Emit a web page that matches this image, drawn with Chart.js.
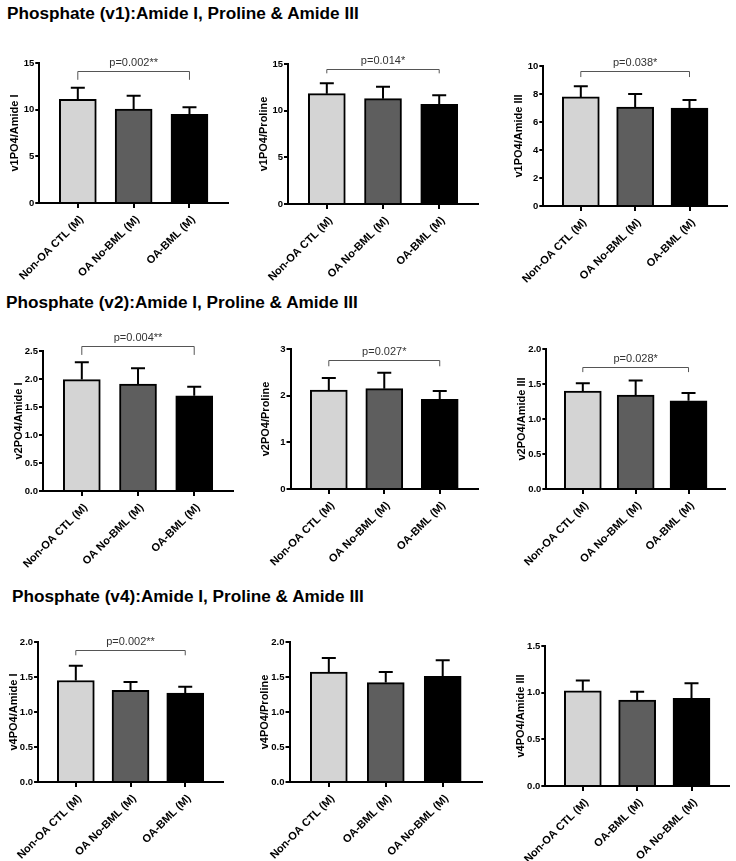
<!DOCTYPE html>
<html lang="en">
<head>
    <meta charset="UTF-8">
    <title>Phosphate : Amide I, Proline &amp; Amide III</title>
    <script src="https://cdn.jsdelivr.net/npm/chart.js"></script>
    <style>
        body { margin: 0; background: #fff; }
        #page { position: relative; width: 736px; height: 861px; font-family: "Liberation Sans", Arial, sans-serif; }
        .section-title { position: absolute; font-weight: bold; font-size: 17.2px; line-height: 20px; white-space: nowrap; color: #000; }
        canvas { position: absolute; }
    </style>
</head>
<body>
<div id="page">
    <div class="section-title" style="left:7px; top:3px;">Phosphate (v1):Amide I, Proline &amp; Amide III</div>
    <div class="section-title" style="left:6px; top:292px;">Phosphate (v2):Amide I, Proline &amp; Amide III</div>
    <div class="section-title" style="left:12px; top:586px;">Phosphate (v4):Amide I, Proline &amp; Amide III</div>
</div>

<script>
    // group order (the v4 Proline / Amide III panels swap the last two)
    const groupsA = ["Non-OA CTL (M)", "OA No-BML (M)", "OA-BML (M)"];
    const groupsB = ["Non-OA CTL (M)", "OA-BML (M)", "OA No-BML (M)"];

    // means and upper error (SD)
    const v1AmideI = [11.1, 10.07, 9.5];
    const v1AmideIErr = [1.25, 1.43, 0.75];
    const v1Proline = [11.82, 11.29, 10.68];
    const v1ProlineErr = [1.11, 1.28, 0.96];
    const v1AmideIII = [7.79, 7.07, 7.0];
    const v1AmideIIIErr = [0.76, 0.93, 0.57];

    const v2AmideI = [1.99, 1.91, 1.70];
    const v2AmideIErr = [0.31, 0.28, 0.16];
    const v2Proline = [2.12, 2.15, 1.92];
    const v2ProlineErr = [0.26, 0.34, 0.18];
    const v2AmideIII = [1.40, 1.34, 1.26];
    const v2AmideIIIErr = [0.11, 0.21, 0.11];

    const v4AmideI = [1.45, 1.31, 1.27];
    const v4AmideIErr = [0.21, 0.12, 0.09];
    const v4Proline = [1.57, 1.42, 1.51];
    const v4ProlineErr = [0.20, 0.15, 0.23];
    const v4AmideIII = [1.02, 0.92, 0.94];
    const v4AmideIIIErr = [0.11, 0.09, 0.16];

    // p-value labels (first vs third bar)
    const pValues = ["p=0.002**", "p=0.014*", "p=0.038*", "p=0.004**", "p=0.027*", "p=0.028*", "p=0.002**", null, null];

    const FONT = "'Liberation Sans', Arial, sans-serif";
    const barFills = ["#d4d4d4", "#5e5e5e", "#000000"];
    const YW = 31, PT = 40, PR = 6, XH = 90;

    // box = [axis left, axis right, axis top, axis bottom] in page pixels
    const panels = [
        { labels: groupsA, means: v1AmideI, err: v1AmideIErr, yTitle: "v1PO4/Amide I", yMax: 15, step: 5, dec: 0, pLevel: 14.15, pFoot: 13.2, box: [37, 228, 63, 203] },
        { labels: groupsA, means: v1Proline, err: v1ProlineErr, yTitle: "v1PO4/Proline", yMax: 15, step: 5, dec: 0, pLevel: 14.5, pFoot: 14.0, box: [286, 478, 64, 204] },
        { labels: groupsA, means: v1AmideIII, err: v1AmideIIIErr, yTitle: "v1PO4/Amide III", yMax: 10, step: 2, dec: 0, pLevel: 9.64, pFoot: 9.21, box: [540, 727, 66, 206] },
        { labels: groupsA, means: v2AmideI, err: v2AmideIErr, yTitle: "v2PO4/Amide I", yMax: 2.5, step: 0.5, dec: 1, pLevel: 2.59, pFoot: 2.43, box: [41, 233, 351, 491] },
        { labels: groupsA, means: v2Proline, err: v2ProlineErr, yTitle: "v2PO4/Proline", yMax: 3, step: 1, dec: 0, pLevel: 2.76, pFoot: 2.63, box: [288, 478, 349, 489] },
        { labels: groupsA, means: v2AmideIII, err: v2AmideIIIErr, yTitle: "v2PO4/Amide III", yMax: 2, step: 0.5, dec: 1, pLevel: 1.75, pFoot: 1.67, box: [542, 725, 349, 489] },
        { labels: groupsA, means: v4AmideI, err: v4AmideIErr, yTitle: "v4PO4/Amide I", yMax: 2, step: 0.5, dec: 1, pLevel: 1.89, pFoot: 1.81, box: [35, 223, 642, 782] },
        { labels: groupsB, means: v4Proline, err: v4ProlineErr, yTitle: "v4PO4/Proline", yMax: 2, step: 0.5, dec: 1, box: [288, 482, 642, 782] },
        { labels: groupsB, means: v4AmideIII, err: v4AmideIIIErr, yTitle: "v4PO4/Amide III", yMax: 1.5, step: 0.5, dec: 1, box: [542, 729, 646, 786] }
    ];

    // error whiskers + significance bracket, drawn through the chart scales
    function overlay(p, pText) {
        return {
            id: "overlay",
            afterDatasetsDraw(chart) {
                const { ctx, scales: { x, y } } = chart;
                ctx.save();
                ctx.strokeStyle = "#000";
                ctx.lineWidth = 2;
                p.means.forEach((m, i) => {
                    const px = x.getPixelForValue(i);
                    const y0 = y.getPixelForValue(m);
                    const y1 = y.getPixelForValue(m + p.err[i]);
                    ctx.beginPath();
                    ctx.moveTo(px, y0);
                    ctx.lineTo(px, y1);
                    ctx.moveTo(px - 7, y1);
                    ctx.lineTo(px + 7, y1);
                    ctx.stroke();
                });
                if (pText) {
                    const xa = x.getPixelForValue(0), xb = x.getPixelForValue(2);
                    const yl = Math.round(y.getPixelForValue(p.pLevel)) + 0.5;
                    const yf = y.getPixelForValue(p.pFoot);
                    ctx.strokeStyle = "#555";
                    ctx.lineWidth = 1;
                    ctx.beginPath();
                    ctx.moveTo(xa, yf);
                    ctx.lineTo(xa, yl);
                    ctx.lineTo(xb, yl);
                    ctx.lineTo(xb, yf);
                    ctx.stroke();
                    ctx.fillStyle = "#333";
                    ctx.font = "11px " + FONT;
                    ctx.textAlign = "center";
                    ctx.textBaseline = "bottom";
                    ctx.fillText(pText, (xa + xb) / 2, yl - 3);
                }
                ctx.restore();
            }
        };
    }

    const page = document.getElementById("page");
    panels.forEach((p, k) => {
        const [ax, ar, at, ab] = p.box;
        const canvas = document.createElement("canvas");
        canvas.width = ar - ax + YW + PR;
        canvas.height = ab - at + PT + XH;
        canvas.style.left = (ax - YW) + "px";
        canvas.style.top = (at - PT) + "px";
        page.appendChild(canvas);

        const labelFont = { family: FONT, size: 11, weight: "bold" };
        const tickFont = { family: FONT, size: 9.5, weight: "bold" };
        new Chart(canvas, {
            type: "bar",
            data: {
                datasets: [{
                    data: p.means.map((v, i) => ({ x: i, y: v })),
                    backgroundColor: barFills,
                    borderColor: "#000",
                    borderWidth: 2,
                    borderSkipped: "start",
                    barThickness: 37
                }]
            },
            options: {
                responsive: false,
                animation: false,
                layout: { padding: { top: PT, right: PR, left: 0, bottom: 0 } },
                plugins: { legend: { display: false }, tooltip: { enabled: false } },
                scales: {
                    x: {
                        type: "linear",
                        offset: false,
                        min: -0.69,
                        max: 2.69,
                        afterBuildTicks: s => { s.ticks = [0, 1, 2].map(v => ({ value: v })); },
                        afterFit: s => { s.height = XH; },
                        grid: { offset: false, drawOnChartArea: false, drawTicks: true, tickLength: 5, color: "#000", lineWidth: 2 },
                        border: { color: "#000", width: 2 },
                        ticks: {
                            autoSkip: false, minRotation: 45, maxRotation: 45, padding: 5, labelOffset: 4,
                            color: "#000", font: labelFont,
                            callback: v => p.labels[v]
                        }
                    },
                    y: {
                        min: 0,
                        max: p.yMax,
                        afterFit: s => { s.width = YW; },
                        grid: { drawOnChartArea: false, drawTicks: true, tickLength: 4, color: "#000", lineWidth: 2 },
                        border: { color: "#000", width: 2 },
                        ticks: {
                            stepSize: p.step, padding: 1, color: "#000", font: tickFont,
                            callback: v => v.toFixed(p.dec)
                        },
                        title: { display: true, text: p.yTitle, color: "#000", font: labelFont, padding: 0 }
                    }
                }
            },
            plugins: [overlay(p, pValues[k])]
        });
    });
</script>
</body>
</html>
